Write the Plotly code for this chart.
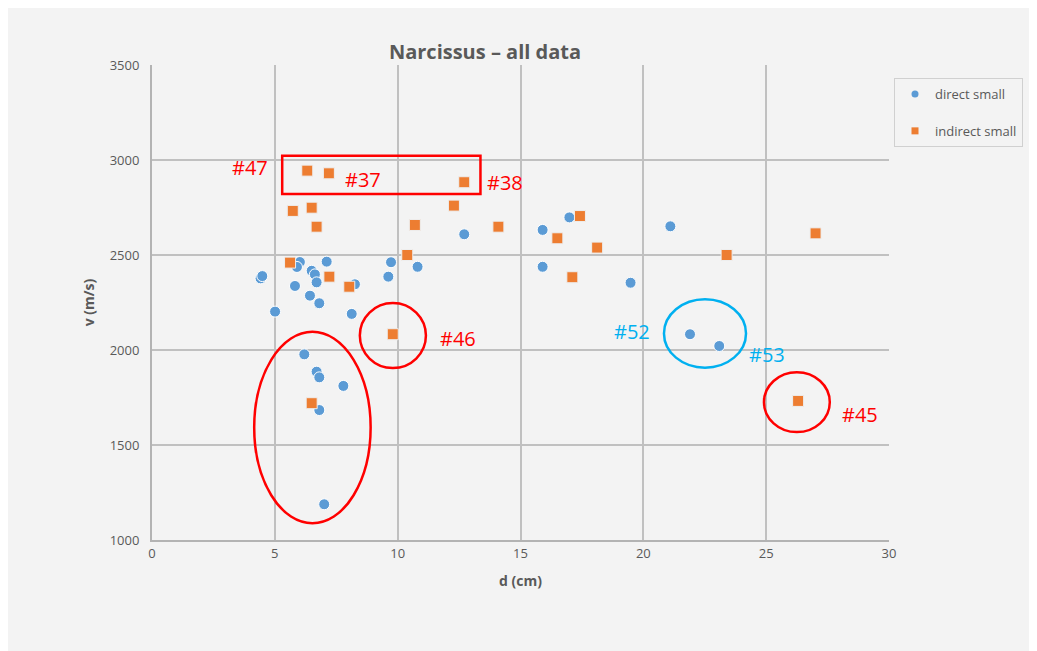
import plotly.graph_objects as go

# ---- data ----
direct_d = [4.42, 4.49, 6.02, 5.90, 7.11, 6.50, 6.63, 6.70, 8.26, 5.82, 6.43, 6.81, 5.01, 8.13,
            6.20, 6.70, 6.81, 7.79, 6.81, 7.01, 9.73, 9.62, 10.81, 12.71, 15.90, 16.99, 15.90,
            19.48, 21.10, 21.90, 23.09]
direct_v = [2377, 2389, 2463, 2437, 2465, 2417, 2398, 2356, 2346, 2337, 2286, 2246, 2202, 2190,
            1977, 1886, 1856, 1811, 1684, 1188, 2462, 2386, 2438, 2609, 2632, 2698, 2438,
            2354, 2651, 2083, 2021]

indirect_d = [6.32, 7.20, 12.71, 5.73, 6.50, 6.70, 12.29, 10.70, 14.10, 10.39, 5.62, 7.22, 8.03,
              9.80, 6.50, 17.42, 16.50, 18.12, 17.11, 23.39, 27.01, 26.30]
indirect_v = [2944, 2930, 2883, 2732, 2749, 2649, 2760, 2658, 2649, 2500, 2460, 2386, 2333,
              2083, 1720, 2705, 2588, 2539, 2383, 2500, 2614, 1732]

# highlight labels (text, d, v, colour)
label_text = ["#47", "#37", "#38", "#46", "#52", "#53", "#45"]
label_d = [3.99, 8.60, 14.35, 12.45, 19.54, 25.03, 28.82]
label_v = [2958, 2895, 2880, 2063, 2095, 1974, 1658]
label_col = ["#ff0000", "#ff0000", "#ff0000", "#ff0000", "#00b0f0", "#00b0f0", "#ff0000"]

# highlight outlines: (type, d0, v0, d1, v1, colour)
outline_type = ["rect", "circle", "circle", "circle", "circle"]
outline_d0 = [5.30, 4.16, 8.46, 20.84, 24.91]
outline_d1 = [13.37, 8.90, 11.15, 24.18, 27.59]
outline_v0 = [2821, 1088, 1905, 1907, 1568]
outline_v1 = [3023, 2096, 2247, 2267, 1883]
outline_col = ["#ff0000", "#ff0000", "#ff0000", "#00b0f0", "#ff0000"]

x_ticks = [0, 5, 10, 15, 20, 25, 30]
y_ticks = [1000, 1500, 2000, 2500, 3000, 3500]

BLUE = "#5b9bd5"
ORANGE = "#ed7d31"
TXT = "#595959"
BG = "#f3f3f3"
FONT = "Open Sans"

# page body has an 8px margin, so figure pixels = screen pixels - 8
OFF = 8
W, H = 1037 - OFF, 651 - OFF
ML, MT = 152 - OFF, 65 - OFF
PW, PH = 737, 475
MR, MB = W - ML - PW, H - MT - PH


def px_x(px):
    return (px - OFF - ML) / PW


def px_y(py):
    return (MT + PH - (py - OFF)) / PH


fig = go.Figure()

fig.add_trace(go.Scatter(
    x=direct_d, y=direct_v, mode="markers", name="direct small", showlegend=False,
    marker=dict(symbol="circle", size=11, color=BLUE, line=dict(color="white", width=1)),
))
fig.add_trace(go.Scatter(
    x=indirect_d, y=indirect_v, mode="markers", name="indirect small", showlegend=False,
    marker=dict(symbol="square", size=11, color=ORANGE, line=dict(color="#eeeeee", width=1)),
))
# legend-only entries with small markers
fig.add_trace(go.Scatter(
    x=[None], y=[None], mode="markers", name="direct small", legendgroup="a",
    marker=dict(symbol="circle", size=7, color=BLUE),
))
fig.add_trace(go.Scatter(
    x=[None], y=[None], mode="markers", name="indirect small", legendgroup="b",
    marker=dict(symbol="square", size=7, color=ORANGE),
))

shapes = []
for t, d0, d1, v0, v1, c in zip(outline_type, outline_d0, outline_d1, outline_v0, outline_v1, outline_col):
    shapes.append(dict(type=t, xref="x", yref="y", x0=d0, x1=d1, y0=v0, y1=v1,
                       line=dict(color=c, width=2.5), layer="above"))

annotations = []
for t, d, v, c in zip(label_text, label_d, label_v, label_col):
    annotations.append(dict(x=d, y=v, xref="x", yref="y", text=t, showarrow=False,
                            font=dict(family=FONT, size=20, color=c),
                            xanchor="center", yanchor="middle"))

fig.update_layout(
    width=W, height=H,
    margin=dict(l=ML, r=MR, t=MT, b=MB, pad=0),
    paper_bgcolor=BG, plot_bgcolor=BG,
    font=dict(family=FONT, color=TXT, size=12),
    title=dict(text="<b>Narcissus – all data</b>", x=px_x(485), xref="paper",
               y=1 - (52 - OFF) / H, yref="container", xanchor="center", yanchor="middle",
               font=dict(family=FONT, size=20, color=TXT)),
    xaxis=dict(range=[0, 30], tickvals=x_ticks, showgrid=True, gridcolor="#c0c0c0", gridwidth=1.5,
               zeroline=False, showline=True, linecolor="#b3b3b3", linewidth=2,
               ticks="", tickfont=dict(size=13, color=TXT),
               title=dict(text="<b>d (cm)</b>", font=dict(size=14, color=TXT), standoff=16)),
    yaxis=dict(range=[1000, 3500], tickvals=y_ticks, showgrid=True, gridcolor="#c0c0c0", gridwidth=1.5,
               zeroline=False, showline=True, linecolor="#b3b3b3", linewidth=2,
               ticks="", ticklabelstandoff=8, tickfont=dict(size=13, color=TXT),
               title=dict(text="<b>v (m/s)</b>", font=dict(size=14, color=TXT), standoff=12)),
    legend=dict(x=px_x(894), y=px_y(78), xanchor="left", yanchor="top",
                bgcolor=BG, bordercolor="#d0d0d0", borderwidth=1,
                font=dict(size=13, color=TXT), tracegroupgap=17, itemwidth=30),
    shapes=shapes,
    annotations=annotations,
    showlegend=True,
)

fig.write_html("out.html")
